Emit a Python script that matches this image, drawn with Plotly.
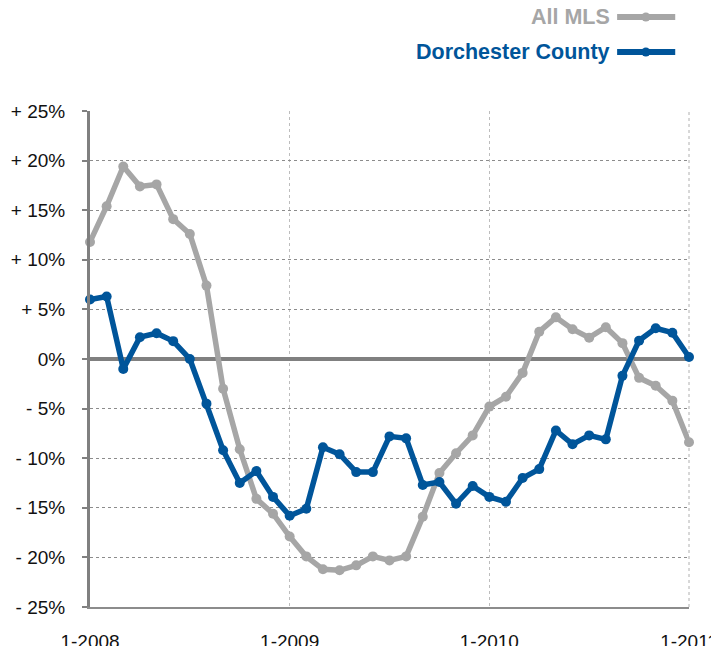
import plotly.graph_objects as go

months = [f"{m}-{y}" for y in (2008, 2009, 2010) for m in range(1, 13)] + ["1-2011"]

all_mls = [11.8, 15.4, 19.4, 17.4, 17.6, 14.1, 12.6, 7.4, -3.0, -9.1, -14.1, -15.6,
           -17.9, -19.9, -21.2, -21.3, -20.8, -19.9, -20.3, -19.9, -15.9, -11.5, -9.5, -7.7,
           -4.8, -3.8, -1.4, 2.75, 4.2, 3.0, 2.15, 3.2, 1.6, -1.9, -2.7, -4.2, -8.4]

dorchester = [6.0, 6.3, -1.0, 2.2, 2.6, 1.8, 0.0, -4.5, -9.2, -12.5, -11.3, -13.9,
              -15.8, -15.1, -8.9, -9.6, -11.4, -11.4, -7.8, -8.0, -12.7, -12.4, -14.6, -12.8,
              -13.9, -14.4, -12.0, -11.1, -7.2, -8.6, -7.7, -8.1, -1.7, 1.85, 3.1, 2.65, 0.2]

y_ticks = [25, 20, 15, 10, 5, 0, -5, -10, -15, -20, -25]
y_labels = ["+ 25%", "+ 20%", "+ 15%", "+ 10%", "+ 5%", "0%",
            "- 5%", "- 10%", "- 15%", "- 20%", "- 25%"]
x_ticks = ["1-2008", "1-2009", "1-2010", "1-2011"]

series_names = ["All MLS", "Dorchester County"]
GRAY = "#A6A6A6"
BLUE = "#00559A"
FONT = "Liberation Sans, Arial, Helvetica, sans-serif"

fig = go.Figure()
for name, vals, col in [(series_names[0], all_mls, GRAY), (series_names[1], dorchester, BLUE)]:
    fig.add_trace(go.Scatter(
        x=months, y=vals, mode="lines+markers", name=name,
        line=dict(color=col, width=5.5),
        marker=dict(color=col, size=10),
        showlegend=False, cliponaxis=False,
    ))

# manual legend (text left, sample right)
legend_rows = [(series_names[0], GRAY, 1.1895), (series_names[1], BLUE, 1.119)]
for name, col, yp in legend_rows:
    fig.add_annotation(xref="paper", yref="paper", x=0.872, y=yp, text=f"<b>{name}</b>",
                       showarrow=False, xanchor="right", yanchor="middle",
                       font=dict(family=FONT, size=21.5, color=col))
    fig.add_shape(type="line", xref="paper", yref="paper", x0=0.880, x1=0.977, y0=yp, y1=yp,
                  line=dict(color=col, width=6))
    fig.add_shape(type="circle", xref="paper", yref="paper",
                  x0=0.928 - 0.0075, x1=0.928 + 0.0075, y0=yp - 0.009, y1=yp + 0.009,
                  fillcolor=col, line=dict(color=col, width=0))

fig.update_layout(
    width=719, height=646,
    margin=dict(l=82, r=38, t=103, b=47),
    plot_bgcolor="white", paper_bgcolor="white",
    font=dict(family=FONT, size=19, color="#111111"),
    showlegend=False,
)
fig.update_xaxes(
    type="category", range=[0, 36], automargin=False,
    tickvals=x_ticks, ticktext=x_ticks,
    showgrid=True, gridcolor="#BDBDBD", griddash="dot", gridwidth=1,
    showline=True, linecolor="#8C8C8C", linewidth=1.5,
    ticks="", ticklabelstandoff=16,
    tickfont=dict(size=19, color="#111111"),
)
fig.update_yaxes(
    range=[-25, 25], tickvals=y_ticks, ticktext=y_labels, automargin=False,
    showgrid=True, gridcolor="#8C8C8C", griddash="dot", gridwidth=1,
    zeroline=True, zerolinecolor="#808080", zerolinewidth=4,
    showline=True, linecolor="#808080", linewidth=3,
    ticks="outside", ticklen=5, tickcolor="#808080", tickwidth=2,
    ticklabelstandoff=13,
    tickfont=dict(size=19, color="#111111"),
)
fig.add_shape(type="line", xref="paper", yref="paper", x0=1, x1=1, y0=0, y1=1,
              line=dict(color="#B0B0B0", width=1, dash="dot"), layer="below")

fig.write_html("out.html")
